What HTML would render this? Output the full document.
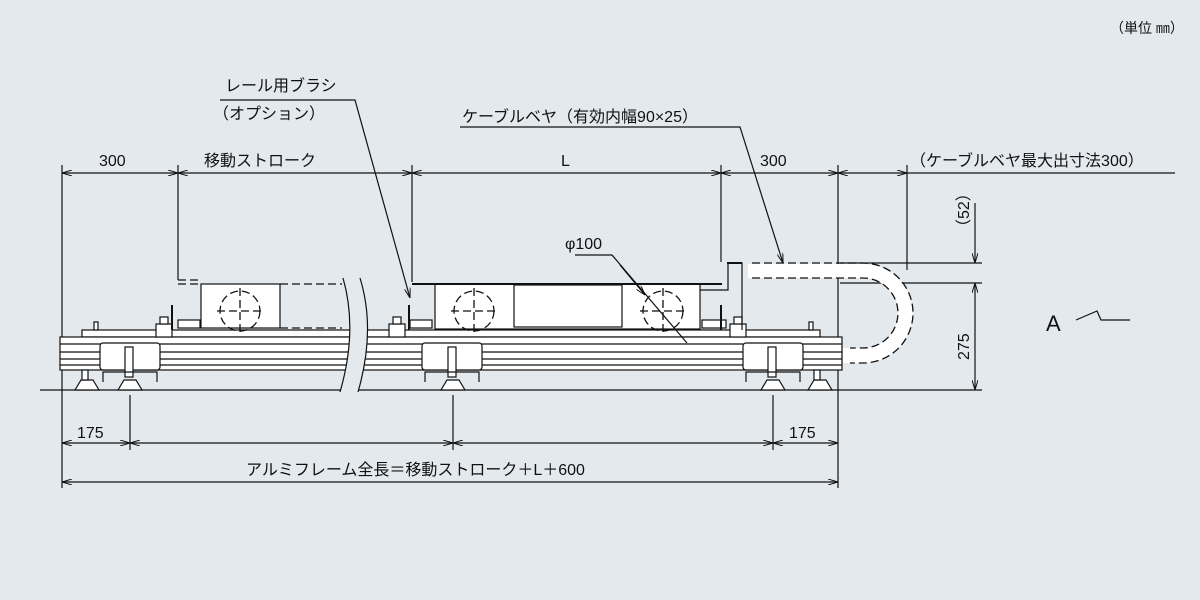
<!DOCTYPE html>
<html><head><meta charset="utf-8"><style>
html,body{margin:0;padding:0;background:#e4e9ee;}
svg{display:block;}
text{font-family:"Liberation Sans","Noto Sans CJK JP",sans-serif;fill:#111;}
</style></head><body>
<svg width="1200" height="600" viewBox="0 0 1200 600" xmlns="http://www.w3.org/2000/svg">
<defs>
<marker id="a" viewBox="0 0 10 6" refX="10" refY="3" markerWidth="10" markerHeight="6" orient="auto-start-reverse" markerUnits="userSpaceOnUse"><path d="M0,0 L10,3 L0,6" fill="none" stroke="#111" stroke-width="1"/></marker>
</defs>
<rect width="1200" height="600" fill="#e4e9ee"/>
<text x="1110" y="33" font-size="14">（単位 ㎜）</text>

<g stroke="#111" stroke-width="1.2" fill="none">
<line x1="62" y1="165" x2="62" y2="488"/>
<line x1="178" y1="165" x2="178" y2="280"/>
<line x1="412" y1="165" x2="412" y2="282"/>
<line x1="721" y1="165" x2="721" y2="262"/>
<line x1="838" y1="165" x2="838" y2="488"/>
<line x1="907" y1="165" x2="907" y2="270"/>
<line x1="130" y1="395" x2="130" y2="450"/>
<line x1="453" y1="395" x2="453" y2="450"/>
<line x1="773" y1="395" x2="773" y2="450"/>
<line x1="62" y1="173" x2="178" y2="173" marker-start="url(#a)" marker-end="url(#a)"/>
<line x1="178" y1="173" x2="412" y2="173" marker-start="url(#a)" marker-end="url(#a)"/>
<line x1="412" y1="173" x2="721" y2="173" marker-start="url(#a)" marker-end="url(#a)"/>
<line x1="721" y1="173" x2="838" y2="173" marker-start="url(#a)" marker-end="url(#a)"/>
<line x1="838" y1="173" x2="907" y2="173" marker-start="url(#a)" marker-end="url(#a)"/>
<line x1="907" y1="173" x2="1175" y2="173"/>
<line x1="62" y1="443" x2="130" y2="443" marker-start="url(#a)" marker-end="url(#a)"/>
<line x1="130" y1="443" x2="453" y2="443" marker-start="url(#a)" marker-end="url(#a)"/>
<line x1="453" y1="443" x2="773" y2="443" marker-start="url(#a)" marker-end="url(#a)"/>
<line x1="773" y1="443" x2="838" y2="443" marker-start="url(#a)" marker-end="url(#a)"/>
<line x1="62" y1="482" x2="838" y2="482" marker-start="url(#a)" marker-end="url(#a)"/>
<line x1="840" y1="263" x2="982" y2="263"/>
<line x1="840" y1="283" x2="982" y2="283"/>
<line x1="975" y1="203" x2="975" y2="263" marker-end="url(#a)"/>
<line x1="975" y1="283" x2="975" y2="390" marker-start="url(#a)" marker-end="url(#a)"/>
<line x1="40" y1="390" x2="982" y2="390"/>
<rect x="82" y="330" width="738" height="7" fill="#fff"/>
<rect x="60" y="337" width="782" height="33" fill="#fff"/>
<line x1="60" y1="344" x2="842" y2="344"/>
<line x1="60" y1="352" x2="842" y2="352"/>
<line x1="60" y1="359" x2="842" y2="359"/>
<line x1="60" y1="365" x2="842" y2="365"/>
</g>
<path d="M343,278 Q358,330 340,392 L358,392 Q376,330 360,278 Z" fill="#e4e9ee"/>
<path d="M343,278 Q358,330 340,392 M360,278 Q376,330 358,392" stroke="#111" stroke-width="1.2" fill="none"/>

<g stroke="#111" stroke-width="1.2" fill="#fff">
<rect x="100" y="343" width="60" height="27" rx="3"/>
<rect x="422" y="343" width="60" height="27" rx="3"/>
<rect x="743" y="343" width="60" height="27" rx="3"/>
<rect x="125" y="347" width="8" height="30"/>
<rect x="448" y="347" width="8" height="30"/>
<rect x="768" y="347" width="8" height="30"/>
<path d="M118,390 L124,380 L136,380 L142,390 Z"/>
<path d="M441,390 L447,380 L459,380 L465,390 Z"/>
<path d="M761,390 L767,380 L779,380 L785,390 Z"/>
<path d="M75,390 L81,380 L93,380 L99,390 Z"/>
<path d="M808,390 L814,380 L826,380 L832,390 Z"/>
<rect x="82" y="370" width="6" height="10"/><rect x="814" y="370" width="6" height="10"/>
<polyline points="103,382 103,372 157,372 157,382" fill="none"/>
<polyline points="425,382 425,372 479,372 479,382" fill="none"/>
<polyline points="746,382 746,372 800,372 800,382" fill="none"/>
<rect x="94" y="322" width="4" height="8"/><rect x="809" y="322" width="4" height="8"/>
<rect x="156" y="324" width="16" height="13"/><rect x="389" y="324" width="16" height="13"/><rect x="730" y="324" width="16" height="13"/>
<rect x="160" y="317" width="8" height="7"/><rect x="393" y="317" width="8" height="7"/><rect x="734" y="317" width="8" height="7"/>
<rect x="178" y="320" width="22" height="8"/><rect x="410" y="320" width="22" height="8"/><rect x="702" y="320" width="24" height="8"/>
<rect x="435" y="284" width="265" height="45"/>
<rect x="514" y="285" width="108" height="42"/>
<line x1="412" y1="284" x2="722" y2="284" stroke-width="2"/>
<polyline points="700,290 728,290 728,263 742,263 742,330" fill="none"/>
<line x1="727" y1="263" x2="742" y2="263" stroke-width="2"/>
<rect x="201" y="284" width="79" height="44"/>
</g>
<!-- cable bearer fill -->
<path d="M748,264 L863,264 A49.5,49.5 0 0 1 863,363 L843,363 L843,348 L863,348 A35,35 0 0 0 863,278 L748,278 Z" fill="#fff"/>
<g stroke="#111" stroke-width="1.3" fill="none" stroke-dasharray="8,4">
<polyline points="178,284 201,284"/><polyline points="280,284 342,284"/>
<line x1="280" y1="328" x2="342" y2="328"/>
<path d="M752,263 L863,263 A50,50 0 0 1 863,363 L850,363"/>
<path d="M752,278 L863,278 A35,35 0 0 1 863,348 L850,348"/>
<circle cx="240" cy="311" r="20"/>
<circle cx="474" cy="311" r="20"/>
<circle cx="663" cy="311" r="20"/>
<line x1="240" y1="288" x2="240" y2="334"/><line x1="217" y1="311" x2="263" y2="311"/>
<line x1="474" y1="288" x2="474" y2="334"/><line x1="451" y1="311" x2="497" y2="311"/>
<line x1="663" y1="288" x2="663" y2="334"/><line x1="640" y1="311" x2="686" y2="311"/>
</g>
<g stroke="#111" stroke-width="1.2" fill="none">
<line x1="178" y1="280" x2="200" y2="280" stroke-dasharray="8,4"/>
<line x1="172" y1="305" x2="172" y2="330" stroke-width="2"/>
<line x1="409" y1="305" x2="409" y2="330" stroke-width="2"/>
<line x1="721" y1="305" x2="721" y2="330" stroke-width="2"/>
<polyline points="1076,320 1097,311 1101,320 1130,320"/>
<polyline points="220,100 355,100 410,298" marker-end="url(#a)"/>
<polyline points="460,127 740,127 783,263" marker-end="url(#a)"/>
<polyline points="575,255 612,255 687,343"/>
<line x1="620" y1="265" x2="645" y2="295" marker-end="url(#a)"/>
</g>

<g font-size="16">
<text x="99" y="166">300</text>
<text x="204" y="166">移動ストローク</text>
<text x="561" y="166">L</text>
<text x="760" y="166">300</text>
<text x="910" y="166">（ケーブルベヤ最大出寸法300）</text>
<text x="225" y="91">レール用ブラシ</text>
<text x="213" y="119">（オプション）</text>
<text x="462" y="122">ケーブルベヤ（有効内幅90×25）</text>
<text x="565" y="249">φ100</text>
<text x="77" y="438">175</text>
<text x="789" y="438">175</text>
<text x="246" y="475">アルミフレーム全長＝移動ストローク＋L＋600</text>
<text x="0" y="0" transform="translate(969,235) rotate(-90)">（52）</text>
<text x="0" y="0" transform="translate(969,360) rotate(-90)">275</text>
<text x="1046" y="331" font-size="22">A</text>
</g>
</svg>
</body></html>
